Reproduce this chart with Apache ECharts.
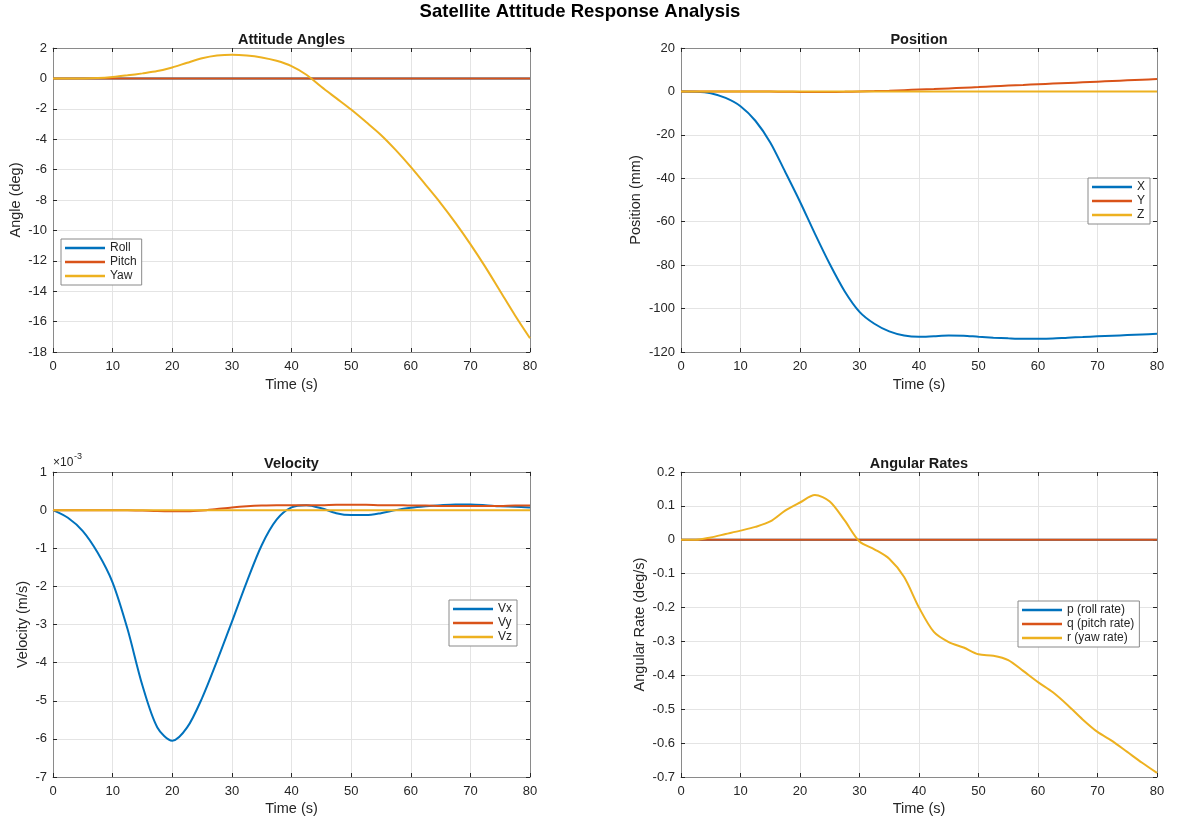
<!DOCTYPE html>
<html>
<head>
<meta charset="utf-8">
<script src="https://cdn.jsdelivr.net/npm/echarts@6/dist/echarts.min.js"></script>
<style>
  html, body { margin: 0; padding: 0; background: #ffffff; }
  #chart { width: 1178px; height: 823px; }
</style>
</head>
<body>
<div id="chart"></div>
<script>
// Sample times (s)
const time = [0, 2.5, 5, 7.5, 10, 12.5, 15, 17.5, 20, 22.5, 25, 27.5, 30, 32.5, 35, 37.5, 40,
  42.5, 45, 47.5, 50, 52.5, 55, 57.5, 60, 62.5, 65, 67.5, 70, 72.5, 75, 77.5, 80];

// Attitude angles (deg)
const roll  = [0, 0, 0, 0, 0, 0, 0, 0, 0, 0, 0, 0, 0, 0, 0, 0, 0, 0, 0, 0, 0, 0, 0, 0, 0, 0, 0, 0, 0, 0, 0, 0, 0];
const pitch = [0, 0, 0, 0, 0, 0, 0, 0, 0, 0, 0, 0, 0, 0, 0, 0, 0, 0, 0, 0, 0, 0, 0, 0, 0, 0, 0, 0, 0, 0, 0, 0, 0];
const yaw   = [0, 0, 0, 0.02, 0.09, 0.2, 0.33, 0.48, 0.72, 1.03, 1.32, 1.5, 1.56, 1.51, 1.38, 1.16, 0.81,
  0.24, -0.55, -1.3, -2.05, -2.87, -3.72, -4.72, -5.82, -7.0, -8.2, -9.5, -10.9, -12.4, -14.0, -15.6, -17.1];

// Position (mm)
const posX = [0, -0.1, -0.8, -3, -6.8, -13.5, -23.5, -37, -50.8, -65.5, -79.5, -92, -101.5, -107, -110.5, -112.4, -113,
  -112.7, -112.4, -112.5, -113, -113.4, -113.7, -113.9, -113.9, -113.8, -113.4, -113.1, -112.8, -112.5, -112.2, -111.9, -111.6];
const posY = [0, 0, 0, 0, 0, 0, -0.05, -0.15, -0.25, -0.3, -0.3, -0.2, 0, 0.15, 0.35, 0.6, 0.85,
  1.1, 1.4, 1.7, 2.0, 2.35, 2.7, 3.0, 3.3, 3.6, 3.9, 4.2, 4.5, 4.8, 5.1, 5.4, 5.7];
const posZ = [0, 0, 0, 0, 0, 0, 0, 0, 0, 0, 0, 0, 0, 0, 0, 0, 0, 0, 0, 0, 0, 0, 0, 0, 0, 0, 0, 0, 0, 0, 0, 0, 0];

// Velocity (m/s)
const velX = [0, -0.0002, -0.00055, -0.00112, -0.0019, -0.00312, -0.0046, -0.0057, -0.00605, -0.0057, -0.00493, -0.00396, -0.00293,
  -0.00188, -0.00092, -0.00025, 0.00007, 0.00013, 0.00005, -0.00008, -0.00013, -0.00013, -0.00008, 0, 0.00006,
  0.0001, 0.00013, 0.00015, 0.00015, 0.00013, 0.0001, 0.00009, 0.00007];
const velY = [0, 0, 0, 0, 0, 0, -0.00001, -0.000025, -0.00003, -0.00003, -0.00001, 0.00003, 0.00007,
  0.0001, 0.00012, 0.00013, 0.00013, 0.00013, 0.00013, 0.00014, 0.00014, 0.00014, 0.00013, 0.00013, 0.00012,
  0.00012, 0.00011, 0.00011, 0.00011, 0.00011, 0.00011, 0.00012, 0.00012];
const velZ = [0, 0, 0, 0, 0, 0, 0, 0, 0, 0, 0, 0, 0, 0, 0, 0, 0, 0, 0, 0, 0, 0, 0, 0, 0, 0, 0, 0, 0, 0, 0, 0, 0];

// Angular rates (deg/s)
const rateP = [0, 0, 0, 0, 0, 0, 0, 0, 0, 0, 0, 0, 0, 0, 0, 0, 0, 0, 0, 0, 0, 0, 0, 0, 0, 0, 0, 0, 0, 0, 0, 0, 0];
const rateQ = [0, 0, 0, 0, 0, 0, 0, 0, 0, 0, 0, 0, 0, 0, 0, 0, 0, 0, 0, 0, 0, 0, 0, 0, 0, 0, 0, 0, 0, 0, 0, 0, 0];
const rateR = [0, 0, 0.007, 0.017, 0.027, 0.038, 0.054, 0.086, 0.11, 0.132, 0.113, 0.057, -0.005, -0.028, -0.056, -0.11, -0.2,
  -0.272, -0.302, -0.318, -0.338, -0.342, -0.355, -0.387, -0.42, -0.45, -0.488, -0.53, -0.567, -0.594, -0.626, -0.658, -0.688];

// Text
const mainTitle = 'Satellite Attitude Response Analysis';
const panelTitles = ['Attitude Angles', 'Position', 'Velocity', 'Angular Rates'];
const yNames = ['Angle (deg)', 'Position (mm)', 'Velocity (m/s)', 'Angular Rate (deg/s)'];
const xName = 'Time (s)';
const seriesNames = [
  ['Roll', 'Pitch', 'Yaw'],
  ['X', 'Y', 'Z'],
  ['Vx', 'Vy', 'Vz'],
  ['p (roll rate)', 'q (pitch rate)', 'r (yaw rate)']
];
const seriesData = [
  [roll, pitch, yaw],
  [posX, posY, posZ],
  [velX, velY, velZ],
  [rateP, rateQ, rateR]
];

const FONT = '"Liberation Sans", Arial, Helvetica, sans-serif';
const COLORS = ['#0072BD', '#D95319', '#EDB120'];
const TEXT = '#262626';

// Panel layout and axis ranges
const panels = [
  { grid: { left: 53, top: 48, width: 477, height: 304 },
    y: { min: -18, max: 2, interval: 2 }, yGap: 30, xGap: 25,
    titleTop: 32, legend: { left: 61, top: 239 } },
  { grid: { left: 681, top: 48, width: 476, height: 304 },
    y: { min: -120, max: 20, interval: 20 }, yGap: 38, xGap: 25,
    titleTop: 32, legend: { left: 1088, top: 178 } },
  { grid: { left: 53, top: 472, width: 477, height: 305 },
    y: { min: -0.007, max: 0.001, interval: 0.001 }, yGap: 23, xGap: 24,
    titleTop: 456, legend: { left: 449, top: 600 },
    yFormat: v => String(Math.round(v * 1000)) },
  { grid: { left: 681, top: 472, width: 476, height: 305 },
    y: { min: -0.7, max: 0.2, interval: 0.1 }, yGap: 34, xGap: 24,
    titleTop: 456, legend: { left: 1018, top: 601 } }
];

const axisLineStyle = { show: true, onZero: false, lineStyle: { color: '#8a8a8a', width: 1 } };
const tickStyle = { show: true, inside: true, length: 4, lineStyle: { color: '#262626', width: 1 } };
const gridLine = { show: true, lineStyle: { color: '#e4e4e4', width: 1 } };
const labelStyle = { color: TEXT, fontSize: 13, fontFamily: FONT };
const nameStyle = { color: TEXT, fontSize: 14.5, fontFamily: FONT };

const grids = [], xAxes = [], yAxes = [], series = [], legends = [];
const titles = [{
  text: mainTitle, left: 580, top: 2, textAlign: 'center', padding: 0,
  textStyle: { fontSize: 18.5, fontWeight: 'bold', color: '#000000', fontFamily: FONT }
}];

panels.forEach((p, i) => {
  grids.push(Object.assign({ show: false }, p.grid));
  titles.push({
    text: panelTitles[i], left: p.grid.left + p.grid.width / 2, top: p.titleTop,
    textAlign: 'center', padding: 0,
    textStyle: { fontSize: 14.5, fontWeight: 'bold', color: '#1a1a1a', fontFamily: FONT }
  });
  // bottom / left axes carry labels and grid lines
  xAxes[i] = {
    gridIndex: i, type: 'value', min: 0, max: 80, interval: 10, position: 'bottom',
    axisLine: axisLineStyle, axisTick: tickStyle, splitLine: gridLine,
    axisLabel: Object.assign({ margin: 8 }, labelStyle),
    name: xName, nameLocation: 'middle', nameGap: p.xGap, nameTextStyle: nameStyle
  };
  yAxes[i] = {
    gridIndex: i, type: 'value', min: p.y.min, max: p.y.max, interval: p.y.interval, position: 'left',
    axisLine: axisLineStyle, axisTick: tickStyle, splitLine: gridLine,
    axisLabel: Object.assign({ margin: 6, formatter: p.yFormat }, labelStyle),
    name: yNames[i], nameLocation: 'middle', nameGap: p.yGap, nameTextStyle: nameStyle
  };
  // top / right axes close the box and repeat the tick marks
  xAxes[i + 4] = {
    gridIndex: i, type: 'value', min: 0, max: 80, interval: 10, position: 'top',
    axisLine: axisLineStyle, axisTick: tickStyle, splitLine: { show: false },
    axisLabel: { show: false }
  };
  yAxes[i + 4] = {
    gridIndex: i, type: 'value', min: p.y.min, max: p.y.max, interval: p.y.interval, position: 'right',
    axisLine: axisLineStyle, axisTick: tickStyle, splitLine: { show: false },
    axisLabel: { show: false }
  };
  seriesNames[i].forEach((name, k) => {
    const values = seriesData[i][k];
    series.push({
      name: name, type: 'line', xAxisIndex: i, yAxisIndex: i,
      data: time.map((t, j) => [t, values[j]]),
      symbol: 'none', smooth: 0.3, clip: true,
      color: COLORS[k],
      lineStyle: { color: COLORS[k], width: 2 },
      z: 3 + k
    });
  });
  // legend keys are plain line swatches
  legends.push({
    data: seriesNames[i], left: p.legend.left, top: p.legend.top,
    orient: 'vertical', icon: 'rect', itemWidth: 40, itemHeight: 2.5, itemGap: 0,
    padding: [2, 5, 2, 4], backgroundColor: '#ffffff',
    borderColor: '#8a8a8a', borderWidth: 1, borderRadius: 0,
    selectedMode: false,
    textStyle: { fontSize: 12, color: TEXT, fontFamily: FONT, lineHeight: 14 },
    z: 10
  });
});

const chart = echarts.init(document.getElementById('chart'), null, { renderer: 'canvas' });
chart.setOption({
  backgroundColor: '#ffffff',
  animation: false,
  title: titles,
  grid: grids,
  xAxis: xAxes,
  yAxis: yAxes,
  legend: legends,
  series: series,
  graphic: [
    { type: 'text', x: 53, y: 463, style: { text: '×10', font: '12px ' + FONT, fill: TEXT, verticalAlign: 'middle' } },
    { type: 'text', x: 74, y: 457, style: { text: '-3', font: '9px ' + FONT, fill: TEXT, verticalAlign: 'middle' } }
  ]
});
</script>
</body>
</html>
